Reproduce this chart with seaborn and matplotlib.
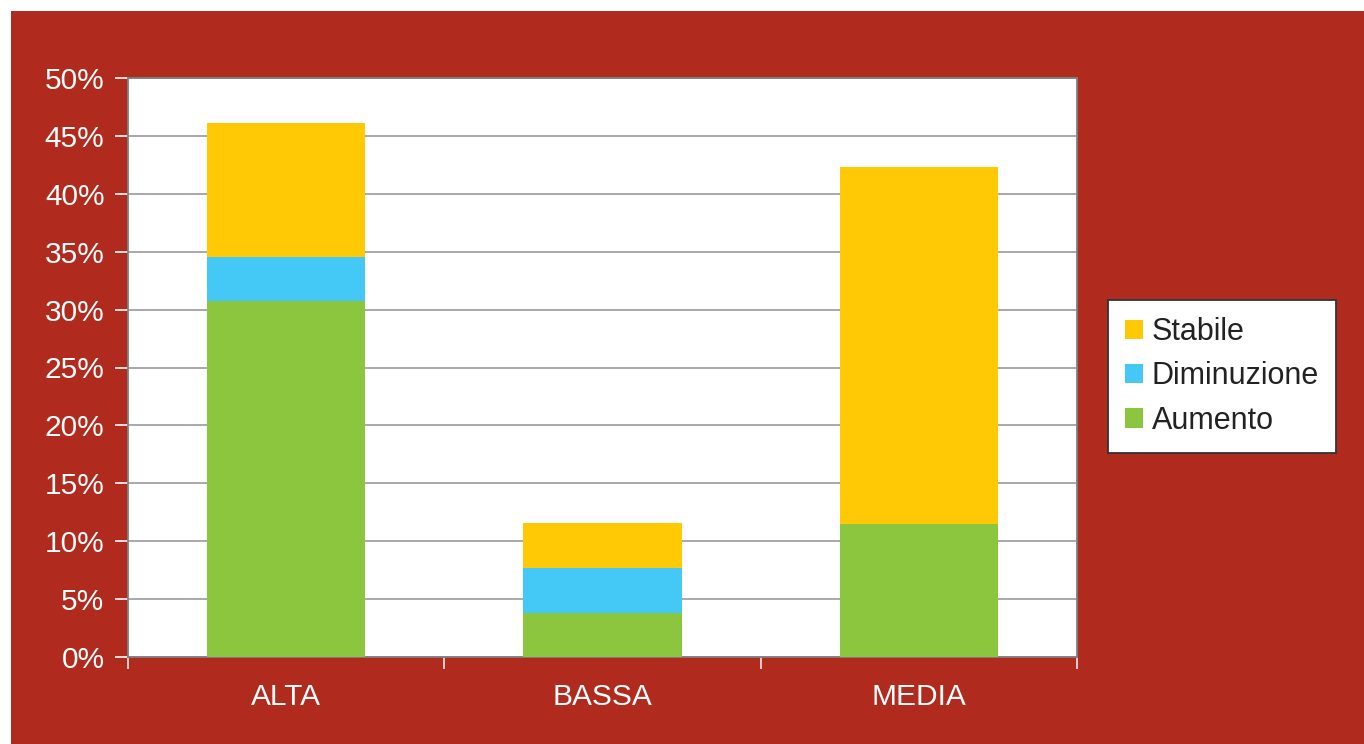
import matplotlib
matplotlib.use("Agg")
import matplotlib.pyplot as plt
import matplotlib.patches as mpatches
from matplotlib.ticker import FixedLocator, PercentFormatter
import seaborn as sns
import pandas as pd

categories = ["ALTA", "BASSA", "MEDIA"]
aumento = [30.7, 3.8, 11.5]
diminuzione = [3.8, 3.9, 0.0]
stabile = [11.6, 3.9, 30.8]
series_names = ["Stabile", "Diminuzione", "Aumento"]
colors = {"Stabile": "#FFC905", "Diminuzione": "#44C8F5", "Aumento": "#8CC63F"}
yticks = [0, 5, 10, 15, 20, 25, 30, 35, 40, 45, 50]

sns.set_style("white")
plt.rcParams["font.family"] = ["Liberation Sans", "DejaVu Sans"]

W, H = 1364, 744
fig = plt.figure(figsize=(W / 100, H / 100), dpi=100)
fig.patch.set_facecolor("white")
bg = mpatches.Rectangle((11 / W, 0), 1, (H - 11) / H, transform=fig.transFigure,
                        facecolor="#B02B1D", edgecolor="none", zorder=-10)
fig.patches.append(bg)

ax = fig.add_axes([128 / W, (H - 657) / H, (1077 - 128) / W, (657 - 78) / H])
ax.set_zorder(1)
ax.set_facecolor("white")

df = pd.DataFrame({"cat": categories, "Aumento": aumento,
                   "Diminuzione": diminuzione, "Stabile": stabile})
df["lvl_aum"] = df["Aumento"]
df["lvl_dim"] = df["Aumento"] + df["Diminuzione"]
df["lvl_sta"] = df["lvl_dim"] + df["Stabile"]

for col, name in [("lvl_sta", "Stabile"), ("lvl_dim", "Diminuzione"), ("lvl_aum", "Aumento")]:
    sns.barplot(data=df, x="cat", y=col, order=categories, color=colors[name],
                saturation=1, width=0.5, ax=ax, zorder=3, linewidth=0)

ax.set_ylim(0, 50)
ax.set_xlim(-0.5, 2.5)
ax.set_yticks(yticks)
ax.yaxis.set_major_formatter(PercentFormatter(decimals=0))
ax.yaxis.grid(True, color="#9a9a9a", linewidth=1.2, zorder=1)
ax.set_axisbelow(True)
ax.set_xlabel("")
ax.set_ylabel("")

for s in ax.spines.values():
    s.set_visible(True)
    s.set_color("#808080")
    s.set_linewidth(1.3)

ax.tick_params(axis="y", which="major", direction="out", length=9.4, width=1.2,
               color="white", labelcolor="white", labelsize=21.5, pad=7.5, left=True)
ax.tick_params(axis="x", which="major", length=0, labelcolor="white",
               labelsize=21.5, pad=18.5)
ax.xaxis.set_minor_locator(FixedLocator([-0.5, 0.5, 1.5, 2.5]))
ax.tick_params(axis="x", which="minor", direction="out", length=8.5, width=1.3,
               color="#dddddd", bottom=True)

handles = [mpatches.Patch(facecolor=colors[n], edgecolor="none", label=n) for n in series_names]
leg = fig.legend(handles=handles, loc="upper left",
                 bbox_to_anchor=(1108 / W, (H - 300) / H), bbox_transform=fig.transFigure,
                 borderaxespad=0, frameon=True, fancybox=False, fontsize=22,
                 handlelength=0.59, handleheight=0.59, handletextpad=0.28,
                 labelspacing=0.47, borderpad=0.56, labelcolor="#222222")
leg.get_frame().set_edgecolor("#333333")
leg.get_frame().set_linewidth(1.3)
leg.get_frame().set_facecolor("white")
leg.get_frame().set_alpha(1)

fig.savefig("out.png", dpi=100, facecolor=fig.get_facecolor())
